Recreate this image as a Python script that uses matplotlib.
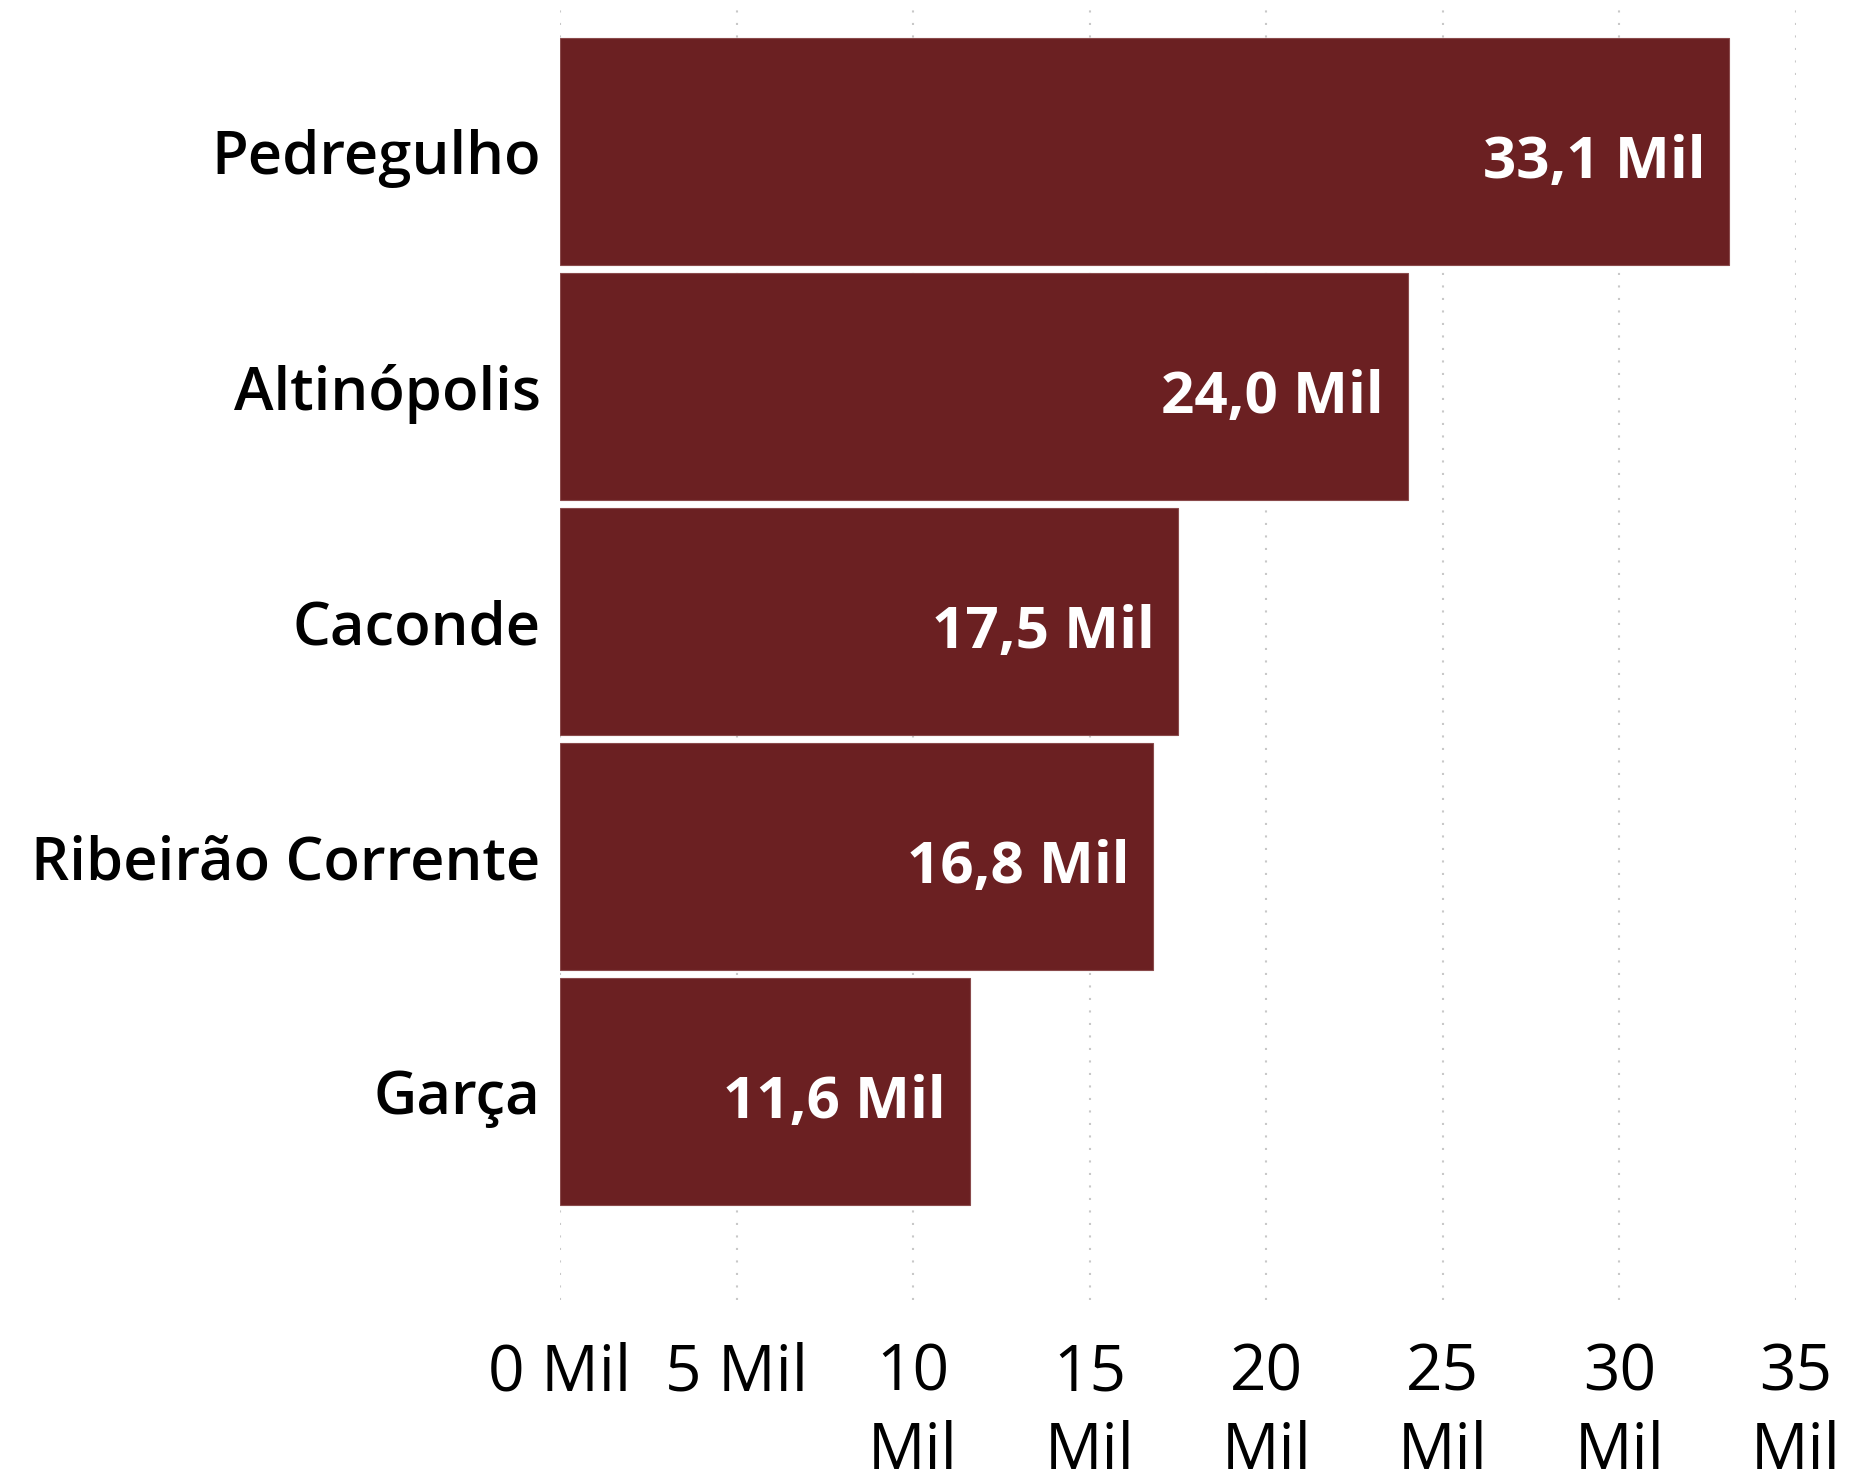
import matplotlib.pyplot as plt
import numpy as np

# Data (values in thousands)
cities = ["Pedregulho", "Altinópolis", "Caconde", "Ribeirão Corrente", "Garça"]
values = [33.1, 24.0, 17.5, 16.8, 11.6]
value_labels = ["33,1 Mil", "24,0 Mil", "17,5 Mil", "16,8 Mil", "11,6 Mil"]
ticks = [0, 5, 10, 15, 20, 25, 30, 35]
tick_labels = ["0 Mil", "5 Mil", "10\nMil", "15\nMil", "20\nMil", "25\nMil", "30\nMil", "35\nMil"]

plt.rcParams['font.family'] = ['Open Sans', 'DejaVu Sans']

fig = plt.figure(figsize=(18.5, 14.82), dpi=100)
ax = fig.add_axes([560 / 1850, 182 / 1482, 1236 / 1850, 1300 / 1482])

y = np.arange(len(cities))
ax.barh(y, values, height=0.966, color='#6B2022', edgecolor='#8a4a4b', linewidth=0.8, zorder=2)

# Axis setup
ax.set_xlim(0, 35)
ax.set_ylim(4.887, -0.645)
ax.set_yticks(y)
ax.set_yticklabels(cities, fontsize=43, fontweight='semibold')
ax.set_xticks(ticks)
ax.set_xticklabels(tick_labels, fontsize=46)
for lbl in ax.get_xticklabels():
    lbl.set_linespacing(1.3)
ax.tick_params(axis='y', length=0, pad=14)
ax.tick_params(axis='x', length=0, pad=30)
for s in ax.spines.values():
    s.set_visible(False)

# Dotted vertical gridlines
ax.grid(axis='x', color='#c8c8c8', linewidth=1.5, linestyle=(0, (1, 5)), zorder=0)
ax.grid(axis='y', visible=False)
ax.set_axisbelow(True)

# Data labels inside bar ends
for yi, v, lab in zip(y, values, value_labels):
    ax.annotate(lab, xy=(v, yi), xytext=(-17, -8), textcoords='offset points',
                ha='right', va='center', color='white', fontsize=42, fontweight='bold')

fig.savefig('out.png', dpi=100)
